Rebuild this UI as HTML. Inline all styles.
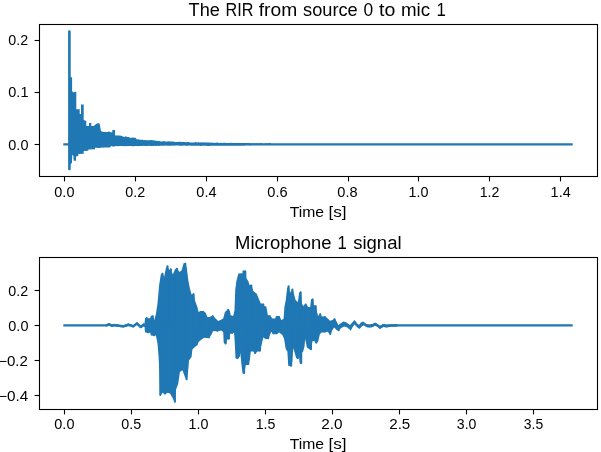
<!DOCTYPE html>
<html><head><meta charset="utf-8"><title>RIR plots</title>
<style>
html,body{margin:0;padding:0;background:#fff;}
body{width:601px;height:452px;overflow:hidden;font-family:"Liberation Sans",sans-serif;}
svg{display:block;will-change:transform;}
</style></head>
<body>
<svg width="601" height="452" viewBox="0 0 601 452">
<rect x="0" y="0" width="601" height="452" fill="#fff"/>
<polygon points="63.3,143.3 68.1,143.3 68.1,31.5 68.6,30.3 70.2,30.3 70.7,31.5 70.7,77.3 72.1,77.3 72.1,91.3 73.7,92.5 75.3,91.8 76.3,92.0 76.3,109.3 79.7,109.3 79.7,114.0 81.0,114.0 81.0,104.4 83.7,104.4 83.7,120.0 86.3,121.0 86.3,126.0 89.0,126.0 89.0,123.0 91.3,123.0 91.3,126.0 93.7,126.0 95.5,124.5 97.5,123.3 99.0,123.3 99.7,124.0 101.0,131.3 104.0,132.0 108.0,132.0 109.0,131.3 110.0,132.0 112.3,132.5 112.3,130.0 115.0,130.0 115.0,135.3 116.0,135.4 117.4,135.6 118.8,135.4 120.2,135.6 121.6,136.0 123.0,136.5 124.4,137.0 125.8,136.3 127.2,136.9 128.6,137.1 130.0,137.8 131.4,137.8 132.8,137.6 134.2,137.8 135.6,137.8 137.0,139.6 138.4,139.2 139.8,139.8 141.2,139.8 142.6,139.7 144.0,140.2 145.4,140.0 146.8,140.2 148.2,140.3 149.6,140.2 151.0,139.9 152.4,140.3 153.8,140.3 155.2,140.7 156.6,140.7 158.0,141.0 159.4,141.0 160.8,141.4 162.2,141.5 163.6,141.1 165.0,141.6 166.4,141.5 167.8,141.5 169.2,141.3 170.6,141.4 172.0,141.5 173.4,141.4 174.8,141.9 176.2,142.0 177.6,141.9 179.0,141.7 180.4,141.7 181.8,142.1 183.2,141.9 184.6,142.1 186.0,142.3 187.4,142.0 188.8,142.0 190.2,142.4 191.6,142.4 193.0,142.4 194.4,142.5 195.8,142.1 197.2,142.4 198.6,142.3 200.0,142.6 201.4,142.3 202.8,142.5 204.2,142.3 205.6,142.6 207.0,142.5 208.4,142.5 209.8,142.6 211.2,142.7 212.6,142.6 214.0,142.9 215.4,142.7 216.8,142.6 218.2,142.8 219.6,142.9 221.0,142.7 222.4,143.0 223.8,142.7 225.2,142.7 226.6,143.0 228.0,142.9 229.4,142.9 230.8,142.8 232.2,142.9 233.6,142.9 235.0,143.1 236.4,142.9 237.8,143.0 239.2,143.1 240.6,143.1 242.0,143.0 243.4,143.0 244.8,143.1 246.2,143.0 247.6,143.0 249.0,143.0 250.4,143.2 251.8,143.0 253.2,143.2 254.6,143.1 256.0,143.2 257.4,143.1 258.8,143.2 260.2,143.1 261.6,143.1 263.0,143.2 264.4,143.3 265.8,143.1 267.2,143.2 268.6,143.1 270.0,143.1 271.4,143.2 272.8,143.2 274.2,143.3 275.6,143.2 277.0,143.2 278.4,143.2 279.8,143.2 281.2,143.3 282.6,143.2 284.0,143.2 285.4,143.2 286.8,143.3 288.2,143.2 289.6,143.3 291.0,143.2 292.4,143.3 293.8,143.3 295.2,143.3 296.6,143.3 298.0,143.3 299.4,143.3 300.8,143.3 302.2,143.3 303.6,143.2 305.0,143.3 306.4,143.3 307.8,143.2 309.2,143.3 310.6,143.3 312.0,143.3 313.4,143.3 314.8,143.3 316.2,143.3 317.6,143.2 319.0,143.3 320.4,143.3 321.8,143.2 323.2,143.2 324.6,143.3 326.0,143.3 327.4,143.2 328.8,143.2 572.7,143.3 572.7,145.4 329.6,145.4 328.2,145.4 326.8,145.4 325.4,145.4 324.0,145.4 322.6,145.4 321.2,145.4 319.8,145.4 318.4,145.4 317.0,145.4 315.6,145.4 314.2,145.4 312.8,145.4 311.4,145.4 310.0,145.4 308.6,145.4 307.2,145.4 305.8,145.4 304.4,145.4 303.0,145.4 301.6,145.4 300.2,145.4 298.8,145.4 297.4,145.4 296.0,145.4 294.6,145.4 293.2,145.4 291.8,145.4 290.4,145.4 289.0,145.4 287.6,145.4 286.2,145.4 284.8,145.4 283.4,145.4 282.0,145.4 280.6,145.4 279.2,145.4 277.8,145.5 276.4,145.5 275.0,145.5 273.6,145.5 272.2,145.5 270.8,145.5 269.4,145.5 268.0,145.5 266.6,145.5 265.2,145.5 263.8,145.5 262.4,145.5 261.0,145.5 259.6,145.5 258.2,145.5 256.8,145.5 255.4,145.6 254.0,145.6 252.6,145.6 251.2,145.6 249.8,145.7 248.4,145.6 247.0,145.6 245.6,145.6 244.2,145.7 242.8,145.7 241.4,145.7 240.0,145.7 238.6,145.8 237.2,145.8 235.8,145.7 234.4,145.7 233.0,145.7 231.6,145.8 230.2,145.8 228.8,145.8 227.4,145.8 226.0,145.7 224.6,145.8 223.2,145.7 221.8,145.7 220.4,145.7 219.0,145.8 217.6,145.8 216.2,145.8 214.8,145.8 213.4,145.7 212.0,145.8 210.6,145.7 209.2,145.9 207.8,145.9 206.4,145.8 205.0,145.8 203.6,145.8 202.2,145.7 200.8,145.9 199.4,145.7 198.0,145.8 196.6,145.7 195.2,145.8 193.8,145.8 192.4,145.8 191.0,145.7 189.6,145.6 188.2,145.7 186.8,145.7 185.4,145.7 184.0,145.6 182.6,145.7 181.2,145.7 179.8,145.8 178.4,145.6 177.0,145.6 175.6,145.6 174.2,145.8 172.8,145.6 171.4,145.8 170.0,145.7 168.6,145.8 167.2,145.8 165.8,145.6 164.4,145.8 163.0,145.7 161.6,145.7 160.2,145.7 158.8,145.9 157.4,145.8 156.0,146.0 154.6,145.7 153.2,145.9 151.8,146.0 150.4,146.1 149.0,145.8 147.6,146.0 146.2,146.0 144.8,146.0 143.4,145.8 142.0,146.1 140.6,145.9 139.2,145.9 137.8,146.2 136.4,146.0 135.0,145.9 133.6,146.3 132.2,146.3 130.8,146.1 129.4,146.1 128.0,146.0 126.6,146.3 125.2,146.1 123.8,146.2 122.4,146.1 121.0,146.1 119.6,146.0 118.2,146.2 116.8,146.1 115.4,146.2 114.0,146.5 112.6,146.5 111.2,146.0 109.8,147.6 108.4,147.5 107.0,147.5 105.6,147.5 104.2,147.6 102.8,147.8 101.4,147.6 100.0,148.0 95.0,147.8 95.0,149.3 88.3,149.5 88.3,150.7 83.7,151.0 83.7,153.7 78.3,154.0 78.3,156.0 76.0,156.5 76.0,160.7 73.7,160.7 73.2,155.3 72.2,155.3 72.0,163.0 70.7,164.0 70.7,169.3 70.2,170.2 68.8,170.2 68.1,169.3 68.1,145.4 63.3,145.4" fill="#1f77b4"/>
<polygon points="63.3,324.3 106.7,324.3 109.2,323.1 111.7,324.6 114.2,324.0 116.7,324.3 119.2,324.7 123.3,325.2 128.3,323.6 130.8,324.3 133.3,325.2 137.0,322.2 140.8,325.9 143.3,323.2 144.5,323.4 145.0,318.2 146.7,317.4 148.5,318.3 150.2,318.3 150.8,315.8 152.8,315.4 154.1,320.2 155.8,314.4 157.5,303.6 159.1,285.3 160.8,274.5 162.5,272.8 164.1,277.0 165.8,268.6 167.5,265.3 169.1,270.3 170.8,268.3 172.8,274.5 174.9,269.5 176.9,267.8 179.4,272.0 181.6,270.3 183.6,263.3 185.3,262.8 186.9,268.6 188.3,280.3 189.9,288.6 191.6,294.4 193.6,293.3 194.9,300.3 197.4,306.9 198.6,311.9 200.7,311.1 203.2,311.1 205.7,312.7 207.4,316.9 209.9,316.9 212.7,315.2 214.9,317.7 218.2,321.1 221.5,319.4 223.2,318.6 224.9,311.9 228.2,309.1 229.9,311.1 230.7,315.2 233.2,316.1 234.5,310.2 235.2,290.3 236.2,282.0 238.3,273.4 242.9,273.2 243.5,270.6 245.3,270.6 246.1,277.8 248.3,281.1 249.6,285.3 251.3,284.5 253.3,291.1 256.6,293.6 259.1,299.4 260.8,303.6 263.3,303.6 264.1,306.1 266.3,306.6 267.9,315.2 269.9,315.2 272.4,318.6 275.3,318.6 276.6,316.1 279.1,316.1 281.6,320.2 283.6,318.6 284.4,306.9 285.7,300.3 287.1,288.6 288.6,285.3 290.2,292.8 292.4,288.6 294.1,294.4 295.7,300.3 297.9,301.9 299.1,292.8 300.7,291.4 301.9,303.6 303.2,306.1 305.7,303.6 308.2,306.9 310.2,306.9 311.0,299.4 312.7,298.6 313.7,305.3 315.7,305.3 317.4,313.6 318.5,316.1 320.2,313.2 321.8,316.6 325.0,316.3 327.5,318.3 330.0,320.8 332.5,320.0 334.6,318.3 336.6,321.6 338.3,325.0 340.8,323.3 343.3,321.6 346.6,322.5 350.0,325.0 352.4,322.5 354.6,320.0 356.6,323.3 359.1,325.0 360.8,322.5 363.3,321.6 365.8,324.1 369.1,324.6 372.4,324.1 375.2,322.5 377.4,324.1 379.9,325.8 383.2,324.1 386.6,324.6 391.5,324.2 396.5,324.3 420.0,324.3 572.7,324.3 572.7,326.4 420.0,326.4 396.5,326.5 391.5,326.6 386.6,327.4 383.2,326.9 379.9,329.1 377.4,326.6 374.9,325.8 371.6,327.4 367.4,327.4 364.1,325.0 361.6,326.6 359.6,329.1 357.4,327.4 354.6,324.1 352.4,327.4 350.8,330.8 347.5,327.4 344.1,326.6 340.8,328.3 339.1,331.6 336.6,329.9 334.1,327.4 332.0,330.8 330.3,334.9 328.3,332.4 327.3,331.7 324.8,332.5 321.5,332.5 319.9,334.2 318.2,341.6 316.2,343.6 314.0,340.8 312.4,341.6 311.0,350.3 309.0,349.1 306.9,347.5 305.2,339.1 304.5,346.6 303.2,351.6 302.0,352.5 301.2,364.1 299.6,363.3 298.6,352.5 297.9,359.1 296.2,358.3 294.6,352.5 293.2,348.3 292.4,360.8 291.2,366.6 288.2,365.8 287.4,351.6 285.7,349.1 284.1,339.1 282.4,335.0 279.1,332.5 276.6,334.2 273.3,334.2 271.3,331.7 269.9,335.0 268.3,339.1 265.8,339.1 263.3,337.5 261.6,345.0 260.0,351.6 257.5,351.6 255.0,354.1 253.3,351.6 250.8,351.6 250.0,359.1 248.3,364.9 245.8,364.9 244.1,374.1 242.5,373.3 241.3,363.3 240.3,352.5 240.0,356.6 237.5,359.1 235.5,358.3 234.7,341.6 234.0,332.5 232.3,333.7 229.9,333.7 229.0,339.5 226.9,339.5 225.7,344.5 223.7,342.8 223.2,332.0 221.0,330.5 217.4,331.5 213.2,331.0 211.5,334.5 209.1,338.3 204.1,337.8 201.6,339.5 198.6,342.0 197.4,345.3 194.9,347.0 192.4,349.5 191.6,357.0 189.1,360.3 187.9,373.6 186.6,380.2 184.9,376.9 182.4,370.3 179.9,371.9 178.3,383.6 175.8,390.2 174.9,402.7 172.4,397.7 170.0,393.6 167.5,392.7 165.0,394.4 162.5,392.7 160.3,396.0 159.6,376.9 158.6,357.0 157.5,343.6 155.8,335.3 154.1,336.2 153.3,335.8 150.8,335.5 150.2,332.5 148.3,333.2 145.0,332.3 144.5,326.8 143.3,326.5 140.8,328.2 137.0,324.6 133.3,327.5 130.8,326.5 128.3,325.9 123.3,327.5 119.2,327.0 116.7,326.5 114.2,326.2 111.7,327.0 109.2,325.4 106.7,326.4 63.3,326.4" fill="#1f77b4"/>
<path d="M146.7 318.4V325.5M152.8 316.4V325.5M162.5 273.8V325.5M167.5 266.3V325.5M170.8 269.3V325.5M176.9 268.8V325.5M185.3 263.8V325.5M193.6 294.3V325.5M200.7 312.1V325.5M203.2 312.1V325.5M212.7 316.2V325.5M228.2 310.1V325.5M243.5 271.6V325.5M245.3 271.6V325.5M251.3 285.5V325.5M263.3 304.6V325.5M269.9 316.2V325.5M276.6 317.1V325.5M279.1 317.1V325.5M288.6 286.3V325.5M292.4 289.6V325.5M300.7 292.4V325.5M305.7 304.6V325.5M312.7 299.6V325.5M315.7 306.3V325.5M320.2 314.2V325.5M325.0 317.3V325.5M334.6 319.3V325.5M148.3 332.2V325.5M154.1 335.2V325.5M160.3 395.0V325.5M165.0 393.4V325.5M174.9 401.7V325.5M186.6 379.2V325.5M209.1 337.3V325.5M217.4 330.5V325.5M225.7 343.5V325.5M229.0 338.5V325.5M232.3 332.7V325.5M237.5 358.1V325.5M244.1 373.1V325.5M248.3 363.9V325.5M255.0 353.1V325.5M260.0 350.6V325.5M265.8 338.1V325.5M268.3 338.1V325.5M273.3 333.2V325.5M276.6 333.2V325.5M291.2 365.6V325.5M297.9 358.1V325.5M301.2 363.1V325.5M311.0 349.3V325.5M316.2 342.6V325.5M324.8 331.5V325.5M330.3 333.9V325.5" fill="none" stroke="#1f77b4" stroke-width="2.08" stroke-linecap="round"/>
<polyline points="106.7,325.33 109.2,324.25 111.7,325.80 114.2,325.10 116.7,325.40 119.2,325.85 123.3,326.35 128.3,324.75 130.8,325.40 133.3,326.35 137.0,323.40 140.8,327.05 143.3,324.85 144.5,325.10 145.0,325.25" fill="none" stroke="#1f77b4" stroke-width="2.5" stroke-linejoin="round" stroke-linecap="round"/>
<polyline points="334.6,323.10 336.6,325.75 338.3,328.03 340.8,325.80 343.3,324.31 346.6,324.84 350.0,327.49 352.4,324.95 354.6,322.05 356.6,324.88 359.1,326.86 360.8,325.05 363.3,323.56 365.8,325.17 369.1,326.00 372.4,325.56 375.2,324.20 377.4,325.35 379.9,327.45 383.2,325.50 386.6,326.00 391.5,325.40 396.5,325.40" fill="none" stroke="#1f77b4" stroke-width="2.5" stroke-linejoin="round" stroke-linecap="round"/>
<g fill="none" stroke="#000" stroke-width="1.1">
<rect x="39.5" y="24.5" width="558.0" height="152.0"/>
<rect x="39.5" y="257.5" width="558.0" height="152.0"/>
</g>
<g stroke="#000" stroke-width="1.1">
<line x1="64.5" y1="176.5" x2="64.5" y2="181.4"/>
<line x1="135.5" y1="176.5" x2="135.5" y2="181.4"/>
<line x1="206.5" y1="176.5" x2="206.5" y2="181.4"/>
<line x1="277.5" y1="176.5" x2="277.5" y2="181.4"/>
<line x1="348.5" y1="176.5" x2="348.5" y2="181.4"/>
<line x1="418.5" y1="176.5" x2="418.5" y2="181.4"/>
<line x1="489.5" y1="176.5" x2="489.5" y2="181.4"/>
<line x1="560.5" y1="176.5" x2="560.5" y2="181.4"/>
<line x1="64.5" y1="409.5" x2="64.5" y2="414.4"/>
<line x1="131.5" y1="409.5" x2="131.5" y2="414.4"/>
<line x1="198.5" y1="409.5" x2="198.5" y2="414.4"/>
<line x1="265.5" y1="409.5" x2="265.5" y2="414.4"/>
<line x1="332.5" y1="409.5" x2="332.5" y2="414.4"/>
<line x1="399.5" y1="409.5" x2="399.5" y2="414.4"/>
<line x1="466.5" y1="409.5" x2="466.5" y2="414.4"/>
<line x1="533.5" y1="409.5" x2="533.5" y2="414.4"/>
<line x1="39.5" y1="40.5" x2="34.6" y2="40.5"/>
<line x1="39.5" y1="92.5" x2="34.6" y2="92.5"/>
<line x1="39.5" y1="144.5" x2="34.6" y2="144.5"/>
<line x1="39.5" y1="290.5" x2="34.6" y2="290.5"/>
<line x1="39.5" y1="325.5" x2="34.6" y2="325.5"/>
<line x1="39.5" y1="360.5" x2="34.6" y2="360.5"/>
<line x1="39.5" y1="395.5" x2="34.6" y2="395.5"/>
</g>
<g font-family="'Liberation Sans', sans-serif" fill="#000">
<text transform="translate(54.33,197.00) scale(1.0127,1)" font-size="14.3px">0.0</text>
<text transform="translate(125.34,197.00) scale(0.9992,1)" font-size="14.3px">0.2</text>
<text transform="translate(196.33,197.00) scale(1.0172,1)" font-size="14.3px">0.4</text>
<text transform="translate(267.33,197.00) scale(1.0215,1)" font-size="14.3px">0.6</text>
<text transform="translate(337.33,197.00) scale(1.0190,1)" font-size="14.3px">0.8</text>
<text transform="translate(408.62,197.00) scale(1.0027,1)" font-size="14.3px">1.0</text>
<text transform="translate(479.63,197.00) scale(0.9909,1)" font-size="14.3px">1.2</text>
<text transform="translate(550.61,197.00) scale(1.0090,1)" font-size="14.3px">1.4</text>
<text transform="translate(54.33,429.00) scale(1.0127,1)" font-size="14.3px">0.0</text>
<text transform="translate(121.34,429.00) scale(1.0012,1)" font-size="14.3px">0.5</text>
<text transform="translate(188.62,429.00) scale(1.0027,1)" font-size="14.3px">1.0</text>
<text transform="translate(255.63,429.00) scale(0.9931,1)" font-size="14.3px">1.5</text>
<text transform="translate(321.23,429.00) scale(1.0698,1)" font-size="14.3px">2.0</text>
<text transform="translate(389.24,429.00) scale(1.0584,1)" font-size="14.3px">2.5</text>
<text transform="translate(456.83,429.00) scale(0.9872,1)" font-size="14.3px">3.0</text>
<text transform="translate(523.83,429.00) scale(0.9756,1)" font-size="14.3px">3.5</text>
<text transform="translate(8.34,45.00) scale(0.9992,1)" font-size="14.3px">0.2</text>
<text transform="translate(8.33,97.00) scale(1.0115,1)" font-size="14.3px">0.1</text>
<text transform="translate(8.33,150.00) scale(1.0127,1)" font-size="14.3px">0.0</text>
<text transform="translate(8.34,296.00) scale(0.9992,1)" font-size="14.3px">0.2</text>
<text transform="translate(8.33,331.00) scale(1.0127,1)" font-size="14.3px">0.0</text>
<text transform="translate(6.93,366.00) scale(1.0534,1)" font-size="14.3px">0.2</text>
<text transform="translate(6.92,401.00) scale(1.0695,1)" font-size="14.3px">0.4</text>
<text transform="translate(-4.75,366.00) scale(1.4255,1)" font-size="14.3px">−</text>
<text transform="translate(-4.75,401.00) scale(1.4255,1)" font-size="14.3px">−</text>
<text transform="translate(188.59,16.00) scale(0.9505,1)" font-size="19.1px">The</text>
<text transform="translate(225.54,16.00) scale(0.8483,1)" font-size="19.1px">RIR</text>
<text transform="translate(258.72,16.00) scale(1.0078,1)" font-size="19.1px">from</text>
<text transform="translate(303.02,16.00) scale(0.9549,1)" font-size="19.1px">source</text>
<text transform="translate(363.58,16.00) scale(0.9101,1)" font-size="19.1px">0</text>
<text transform="translate(379.07,16.00) scale(1.0238,1)" font-size="19.1px">to</text>
<text transform="translate(401.00,16.00) scale(0.9819,1)" font-size="19.1px">mic</text>
<text transform="translate(436.58,16.00) scale(0.8821,1)" font-size="19.1px">1</text>
<text transform="translate(235.10,249.00) scale(0.9658,1)" font-size="19.1px">Microphone</text>
<text transform="translate(337.47,249.00) scale(0.8809,1)" font-size="19.1px">1</text>
<text transform="translate(353.15,249.00) scale(0.9716,1)" font-size="19.1px">signal</text>
<text transform="translate(289.64,217.00) scale(1.0986,1)" font-size="14.3px">Time</text>
<text transform="translate(328.39,217.00) scale(1.2023,1)" font-size="14.3px">[s]</text>
<text transform="translate(289.64,449.00) scale(1.0986,1)" font-size="14.3px">Time</text>
<text transform="translate(328.39,449.00) scale(1.2023,1)" font-size="14.3px">[s]</text>
</g>
</svg>
</body></html>
